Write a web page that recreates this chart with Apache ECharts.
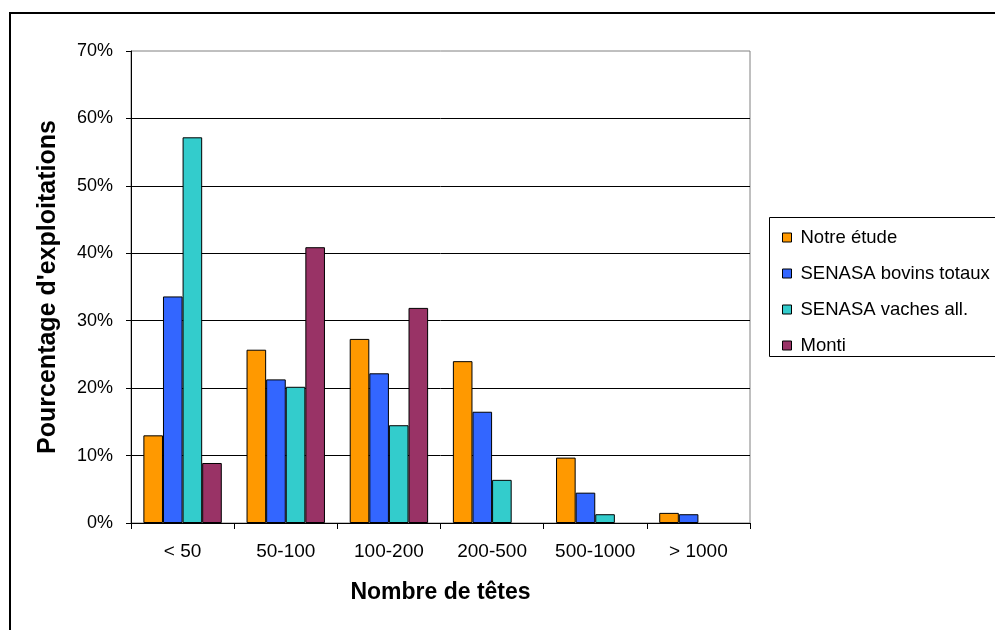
<!DOCTYPE html>
<html>
<head>
<meta charset="utf-8">
<script src="https://cdn.jsdelivr.net/npm/echarts@6/dist/echarts.min.js"></script>
<style>
  html, body { margin: 0; padding: 0; background: #fff; }
  #chart { width: 995px; height: 630px; }
</style>
</head>
<body>
<div id="chart"></div>
<script>
// Herd-size classes (number of head)
const categories = ['< 50', '50-100', '100-200', '200-500', '500-1000', '> 1000'];

// Share of farms per class, in percent (null = no bar)
const notreEtude   = [13.0, 25.7, 27.3, 24.0, 9.7, 1.5];
const senasaBovins = [33.6, 21.3, 22.2, 16.5, 4.5, 1.3];
const senasaVaches = [57.2, 20.2, 14.5, 6.4, 1.3, null];
const monti        = [8.9, 40.9, 31.9, null, null, null];

const seriesNames = ['Notre étude', 'SENASA bovins totaux', 'SENASA vaches all.', 'Monti'];
const seriesColors = ['#FF9900', '#3366FF', '#33CCCC', '#993366'];
const seriesData = [notreEtude, senasaBovins, senasaVaches, monti];

const FONT = '"Liberation Sans", Arial, sans-serif';

const chart = echarts.init(document.getElementById('chart'), null, { renderer: 'canvas' });

chart.setOption({
  backgroundColor: '#fff',
  animation: false,
  textStyle: { fontFamily: FONT, color: '#000' },
  graphic: [
    // outer chart frame
    {
      type: 'rect', z: -10,
      shape: { x: 10, y: 13, width: 1000, height: 640 },
      style: { fill: '#fff', stroke: '#000', lineWidth: 2 }
    },
    // legend box
    {
      type: 'rect', z: 1,
      shape: { x: 769.5, y: 217.5, width: 300, height: 139 },
      style: { fill: '#fff', stroke: '#000', lineWidth: 1 }
    }
  ],
  grid: {
    left: 131, top: 51, right: 245, bottom: 107,
    show: true, borderColor: '#808080', borderWidth: 1,
    backgroundColor: 'transparent'
  },
  legend: {
    orient: 'vertical',
    left: 777, top: 223,
    z: 5,
    itemWidth: 9, itemHeight: 9,
    itemGap: 17,
    icon: 'rect',
    itemStyle: { borderColor: '#000', borderWidth: 1 },
    textStyle: { fontSize: 18.5, fontFamily: FONT, color: '#000', lineHeight: 18, padding: [0, 0, 0, 4] },
    data: seriesNames
  },
  xAxis: {
    type: 'category',
    data: categories,
    axisLine: { lineStyle: { color: '#000', width: 1 } },
    axisTick: { show: true, interval: 0, length: 6, lineStyle: { color: '#000' } },
    axisLabel: { interval: 0, hideOverlap: false, fontSize: 19, color: '#000', margin: 19, fontFamily: FONT },
    name: 'Nombre de têtes',
    nameLocation: 'middle',
    nameGap: 58,
    nameTextStyle: { fontSize: 23, fontWeight: 'bold', color: '#000', fontFamily: FONT }
  },
  yAxis: {
    type: 'value',
    min: 0, max: 70, interval: 10,
    axisLine: { show: true, lineStyle: { color: '#000', width: 1 } },
    axisTick: { show: true, length: 5, lineStyle: { color: '#000' } },
    axisLabel: { fontSize: 18, color: '#000', margin: 18, formatter: '{value}%', fontFamily: FONT },
    splitLine: { show: true, showMaxLine: false, lineStyle: { color: '#000', width: 1 } },
    name: "Pourcentage d'exploitations",
    nameLocation: 'middle',
    nameRotate: 90,
    nameGap: 70,
    nameTextStyle: { fontSize: 25, fontWeight: 'bold', color: '#000', fontFamily: FONT }
  },
  series: seriesNames.map((name, i) => ({
    name,
    type: 'bar',
    data: seriesData[i],
    barGap: '0%',
    barCategoryGap: '24%',
    itemStyle: { color: seriesColors[i], borderColor: '#000', borderWidth: 1 }
  }))
});
</script>
</body>
</html>
